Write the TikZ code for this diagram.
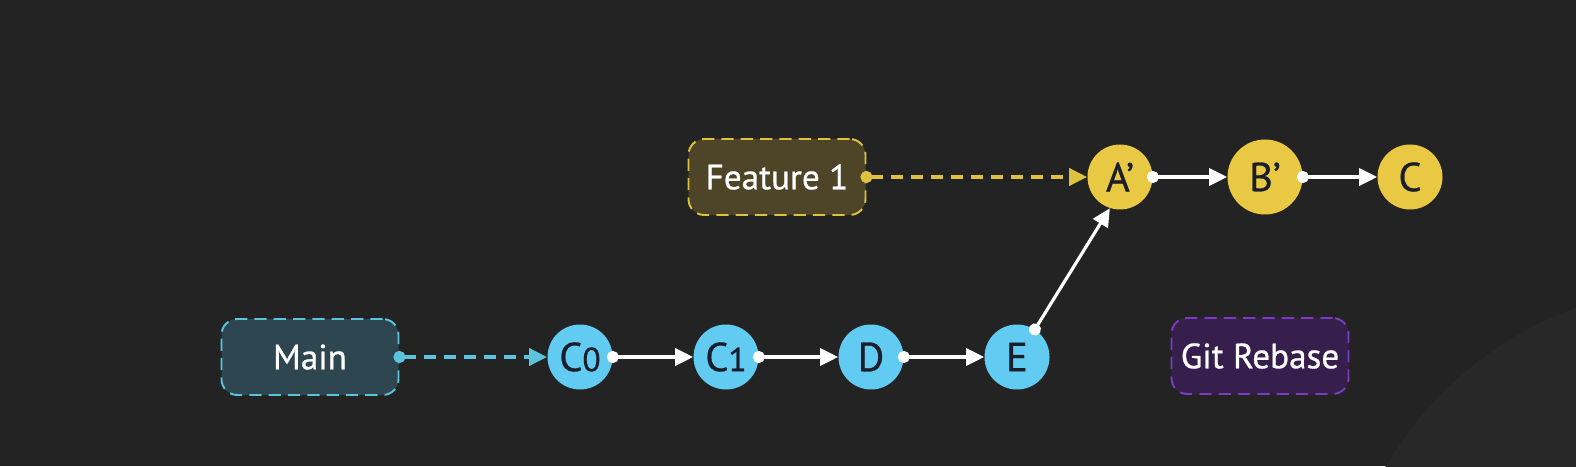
\documentclass[tikz,border=0pt]{standalone}
\usepackage{fontspec}
\setmainfont{PT Sans}[FakeBold=0.7]
\usepackage{tikz}
\usetikzlibrary{arrows.meta, positioning, calc}
\definecolor{bgc}{HTML}{232323}
\definecolor{bgcurve}{HTML}{282828}
\definecolor{mainfill}{HTML}{2E4650}
\definecolor{mainline}{HTML}{5CC3DC}
\definecolor{featfill}{HTML}{4E4529}
\definecolor{featline}{HTML}{DCC23E}
\definecolor{gitfill}{HTML}{371F4D}
\definecolor{gitline}{HTML}{7A3CC0}
\definecolor{bluec}{HTML}{62CBF2}
\definecolor{yellowc}{HTML}{E9C944}
\definecolor{ink}{HTML}{1A1E2A}
\tikzset{
  % --- Nhanh (branch) -----------------------------------------
  branch/.style={draw, line width=1.1pt, rounded corners=9pt,
    minimum width=3.54cm, minimum height=1.52cm, align=center,
    font=\fontsize{20}{22}\selectfont, text=white,
    dash pattern=on 7pt off 4pt},
  % --- Commit -------------------------------------------------
  commit/.style={circle, minimum size=1.3cm, inner sep=0pt,
    font=\fontsize{23}{24}\selectfont, text=ink},
  bcommit/.style={commit, fill=bluec},
  ycommit/.style={commit, fill=yellowc},
  % --- Mui ten ------------------------------------------------
  link/.style={line width=1.8pt, white, shorten <=-0.12cm,
    {Circle[length=0.24cm]}-{Triangle[length=0.36cm, width=0.34cm]}},
  ptr/.style={link, line width=2.2pt, dash pattern=on 0.24cm off 0.16cm}
}
\newcommand{\dg}[1]{{\fontsize{19}{20}\selectfont #1}}

\begin{document}
\begin{tikzpicture}

  % --- Nen ----------------------------------------------------
  \fill[bgc] (0,0) rectangle (31.52,9.32);
  \useasboundingbox (0,0) rectangle (31.52,9.32);
  \begin{scope}
    \clip (0,0) rectangle (31.52,9.32);
    \fill[bgcurve] (34.0,-3.68) circle (7.28);
  \end{scope}

  % --- Nhanh main ---------------------------------------------
  \node[branch, fill=mainfill, draw=mainline] (MAIN) at (6.20,2.18) {Main};
  \node[bcommit] (CZERO) at (11.60,2.18) {C\dg{0}};
  \node[bcommit] (CONE) at (14.52,2.18) {C\dg{1}};
  \node[bcommit] (D) at (17.42,2.18) {D};
  \node[bcommit] (E) at (20.34,2.18) {E};

  % --- Nhanh feature ------------------------------------------
  \node[branch, fill=featfill, draw=featline] (FEAT) at (15.54,5.78) {Feature 1};
  \node[ycommit] (AP) at (22.40,5.78) {A’};
  \node[ycommit, minimum size=1.5cm] (BP) at (25.30,5.78) {B’};
  \node[ycommit] (C) at (28.20,5.78) {C};

  % --- Nhan ---------------------------------------------------
  \node[branch, fill=gitfill, draw=gitline] (REBASE) at (25.20,2.20) {Git Rebase};

  % --- Lien ket -----------------------------------------------
  \draw[ptr, mainline] (MAIN.east) -- (CZERO.west);
  \draw[link] (CZERO.east) -- (CONE.west);
  \draw[link] (CONE.east) -- (D.west);
  \draw[link] (D.east) -- (E.west);
  \draw[link] (E.57) -- (AP.252);
  \draw[ptr, featline] (FEAT.east) -- (AP.west);
  \draw[link] (AP.east) -- (BP.west);
  \draw[link] (BP.east) -- (C.west);

\end{tikzpicture}
\end{document}
